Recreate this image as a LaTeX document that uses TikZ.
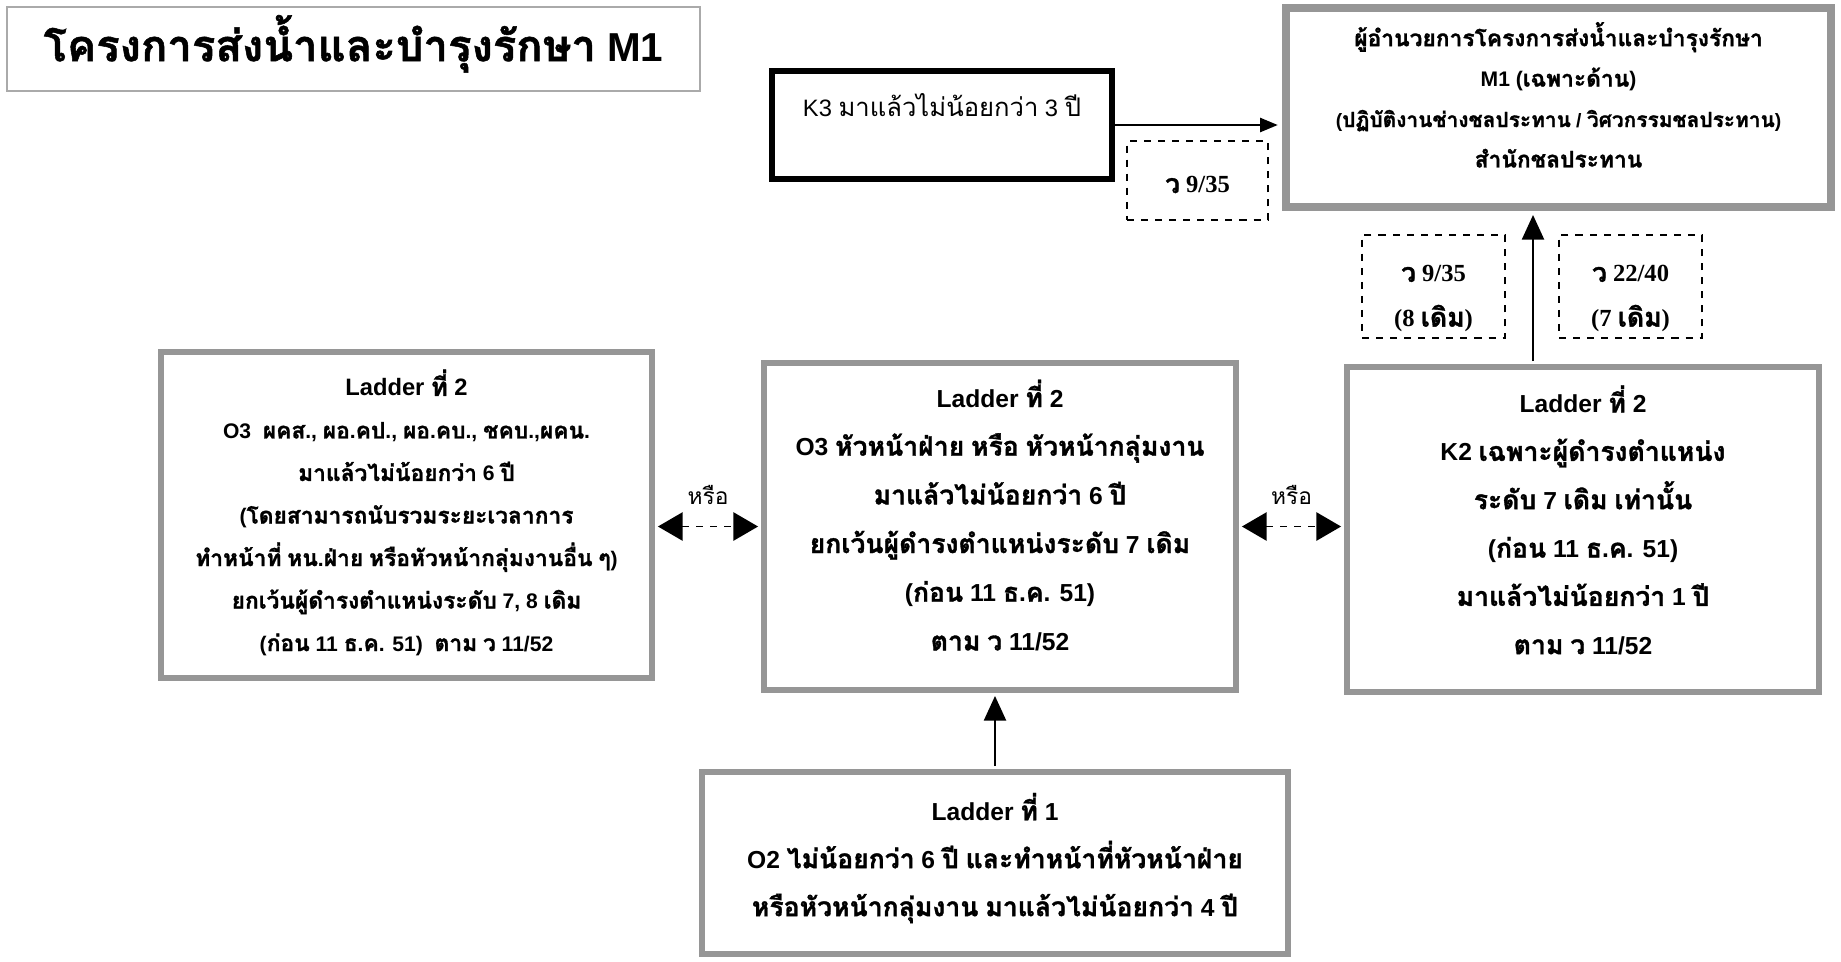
\documentclass[tikz,border=0pt]{standalone}
\usepackage{fontspec}
\setmainfont{Liberation Sans}
\newfontfamily\thaifont[Script=Thai, Scale=1.08, BoldFeatures={FakeBold=1.2}]{Loma}
\newfontfamily\numserif{Liberation Serif}
\usetikzlibrary{arrows.meta,positioning}

% Thai letters are set in Loma, the rest in Liberation
\XeTeXinterchartokenstate=1
\newXeTeXintercharclass\thaiclass
\count255="0E00
\loop
  \XeTeXcharclass\count255=\thaiclass
  \ifnum\count255<"0E7F \advance\count255 by 1
\repeat
\XeTeXinterchartoks 0 \thaiclass = {\begingroup\thaifont}
\XeTeXinterchartoks 4095 \thaiclass = {\begingroup\thaifont}
\XeTeXinterchartoks \thaiclass 0 = {\endgroup}
\XeTeXinterchartoks \thaiclass 4095 = {\endgroup}

% centred lines, lifted by #1 inside the box
\newcommand{\boxlines}[2]{\raisebox{#1}[\height][\depth]{\begin{tabular}{@{}c@{}}#2\end{tabular}}}

\definecolor{ladgray}{RGB}{150,150,150}
\definecolor{titlegray}{RGB}{170,170,170}

\tikzset{
  ladbox/.style={draw=ladgray, line width=3.4pt, align=center, inner sep=0pt},
  k3box/.style={draw=black, line width=3.4pt, align=center, inner sep=0pt},
  refbox/.style={draw=black, dash pattern=on 4pt off 4pt, line width=0.8pt, align=center, inner sep=0pt,
    font=\numserif\bfseries\fontsize{14pt}{25.5pt}\selectfont},
  uparrow/.style={-{Triangle[length=14pt,width=12.5pt]}, line width=1.3pt},
  orarrow/.style={{Triangle[length=14pt,width=16pt]}-{Triangle[length=14pt,width=16pt]},
    line width=1.1pt, dash pattern=on 4pt off 4pt},
}

\begin{document}
\begin{tikzpicture}[x=0.02cm, y=-0.02cm]
\useasboundingbox (0,0) rectangle (1841,961);

\node[draw=titlegray, line width=1.5pt, minimum width=13.86cm, minimum height=1.68cm, inner sep=0pt,
  font=\bfseries\fontsize{23pt}{28pt}\selectfont] (title) at (353.5,49)
  {\boxlines{2pt}{โครงการส่งน้ำและบำรุงรักษา M1}};

\node[k3box, minimum width=6.8cm, minimum height=2.16cm, text height=0.45cm, text depth=0.79cm,
  font=\fontsize{13.5pt}{18pt}\selectfont] (k3) at (942,125) {K3 มาแล้วไม่น้อยกว่า 3 ปี};

\node[refbox, minimum width=2.82cm, minimum height=1.58cm] (ref1) at (1197.5,180.5)
  {\boxlines{-2pt}{ว 9/35}};

\node[ladbox, line width=4.5pt, minimum width=10.9cm, minimum height=3.98cm,
  font=\bfseries\fontsize{12pt}{23pt}\selectfont] (m1) at (1558.5,107.5)
  {\boxlines{5pt}{ผู้อำนวยการโครงการส่งน้ำและบำรุงรักษา\\
   M1 (เฉพาะด้าน)\\
   \fontsize{11pt}{23pt}\selectfont(ปฏิบัติงานช่างชลประทาน / วิศวกรรมชลประทาน)\\
   สำนักชลประทาน}};

\node[refbox, minimum width=2.86cm, minimum height=2.06cm] (ref2) at (1433.5,286.5)
  {\boxlines{-5pt}{ว 9/35\\(8 เดิม)}};
\node[refbox, minimum width=2.86cm, minimum height=2.06cm] (ref3) at (1630.5,286.5)
  {\boxlines{-5pt}{ว 22/40\\(7 เดิม)}};

\node[ladbox, minimum width=9.82cm, minimum height=6.52cm,
  font=\bfseries\fontsize{12pt}{24.2pt}\selectfont] (o3a) at (406.5,515)
  {\boxlines{0pt}{\fontsize{13.5pt}{24.2pt}\selectfont Ladder ที่ 2\\
   O3\ \ ผคส., ผอ.คป., ผอ.คบ., ชคบ.,ผคน.\\
   มาแล้วไม่น้อยกว่า 6 ปี\\
   (โดยสามารถนับรวมระยะเวลาการ\\
   ทำหน้าที่ หน.ฝ่าย หรือหัวหน้ากลุ่มงานอื่น ๆ)\\
   ยกเว้นผู้ดำรงตำแหน่งระดับ 7, 8 เดิม\\
   (ก่อน 11 ธ.ค. 51)\ \ ตาม ว 11/52}};

\node[ladbox, minimum width=9.44cm, minimum height=6.54cm,
  font=\bfseries\fontsize{14pt}{27.7pt}\selectfont] (o3b) at (1000,526.5)
  {\boxlines{4.3pt}{Ladder ที่ 2\\
   O3 หัวหน้าฝ่าย หรือ หัวหน้ากลุ่มงาน\\
   มาแล้วไม่น้อยกว่า 6 ปี\\
   ยกเว้นผู้ดำรงตำแหน่งระดับ 7 เดิม\\
   (ก่อน 11 ธ.ค. 51)\\
   ตาม ว 11/52}};

\node[ladbox, minimum width=9.44cm, minimum height=6.5cm,
  font=\bfseries\fontsize{14pt}{27.5pt}\selectfont] (k2) at (1583,529.5)
  {\boxlines{3.3pt}{Ladder ที่ 2\\
   K2 เฉพาะผู้ดำรงตำแหน่ง\\
   ระดับ 7 เดิม เท่านั้น\\
   (ก่อน 11 ธ.ค. 51)\\
   มาแล้วไม่น้อยกว่า 1 ปี\\
   ตาม ว 11/52}};

\node[ladbox, minimum width=11.72cm, minimum height=3.64cm,
  font=\bfseries\fontsize{14pt}{27.3pt}\selectfont] (o2) at (995,863)
  {\boxlines{2.5pt}{Ladder ที่ 1\\
   O2 ไม่น้อยกว่า 6 ปี และทำหน้าที่หัวหน้าฝ่าย\\
   หรือหัวหน้ากลุ่มงาน มาแล้วไม่น้อยกว่า 4 ปี}};

\draw[-{Triangle[length=10pt,width=8pt]}, line width=1.2pt, shorten >=2.5pt] (k3.east) -- (k3.east -| m1.west);
\draw[uparrow, shorten <=1.7pt, shorten >=2.3pt] ([xshift=-1cm]k2.north) -- ([xshift=-1cm]k2.north |- m1.south);
\draw[uparrow, shorten <=1.7pt, shorten >=1.7pt] (o2.north) -- (o2.north |- o3b.south);

\draw[orarrow, shorten <=1.7pt, shorten >=1.7pt] (o3b.west -| o3a.east) -- (o3b.west)
  node[midway, above=0.3cm, font=\fontsize{12pt}{14pt}\selectfont] (or1) {หรือ};
\draw[orarrow, shorten <=1.7pt, shorten >=1.7pt] (o3b.east) -- (o3b.east -| k2.west)
  node[midway, above=0.3cm, font=\fontsize{12pt}{14pt}\selectfont] (or2) {หรือ};
\end{tikzpicture}
\end{document}
